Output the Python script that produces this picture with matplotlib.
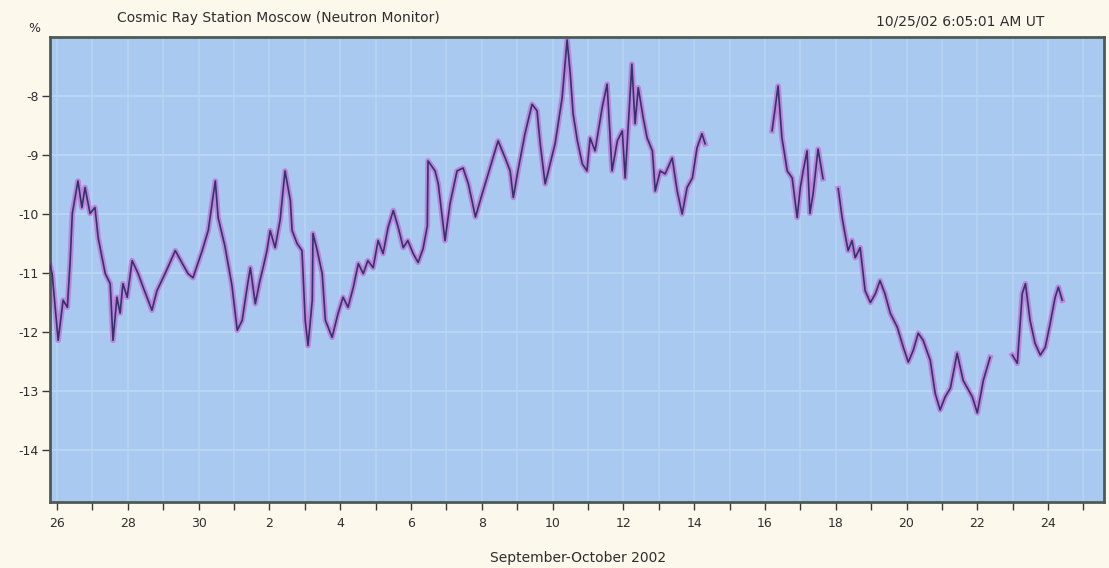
import numpy as np
import matplotlib
matplotlib.use("Agg")
import matplotlib.pyplot as plt
from matplotlib.ticker import FixedLocator, NullFormatter

# Time in days since Sep 26 2002 00:00 UT, values in percent
seg1_days = [-0.20, -0.14, 0.03, 0.17, 0.29, 0.37, 0.43, 0.59, 0.70, 0.79, 0.93, 1.07,
             1.16, 1.36, 1.50, 1.58, 1.69, 1.78, 1.86, 1.98, 2.12, 2.29, 2.43, 2.68,
             2.82, 3.05, 3.34, 3.54, 3.70, 3.84, 4.10, 4.27, 4.47, 4.55, 4.74, 4.94,
             5.09, 5.23, 5.37, 5.46, 5.60, 5.73, 5.82, 5.93, 6.02, 6.16, 6.30, 6.44,
             6.59, 6.64, 6.78, 6.92, 7.01, 7.09, 7.21, 7.23, 7.35, 7.49, 7.58, 7.77,
             7.94, 8.08, 8.22, 8.37, 8.51, 8.65, 8.78, 8.93, 9.07, 9.21, 9.35, 9.50,
             9.64, 9.78, 9.91, 10.06, 10.20, 10.34, 10.46, 10.48, 10.68, 10.77, 10.96,
             11.10, 11.30, 11.47, 11.62, 11.82, 12.01, 12.18, 12.46, 12.66, 12.80,
             12.89, 13.02, 13.22, 13.42, 13.56, 13.65, 13.79, 13.88, 14.07, 14.27,
             14.41, 14.50, 14.58, 14.70, 14.84, 14.97, 15.06, 15.20, 15.40, 15.54,
             15.68, 15.83, 15.97, 16.05, 16.13, 16.24, 16.33, 16.42, 16.56, 16.67,
             16.82, 16.90, 17.04, 17.18, 17.38, 17.52, 17.66, 17.80, 17.95, 18.08,
             18.22, 18.31]
seg1_vals = [-10.87, -11.01, -12.14, -11.46, -11.58, -10.79, -9.99, -9.44, -9.89, -9.55,
             -9.99, -9.89, -10.40, -11.01, -11.18, -12.14, -11.41, -11.68, -11.18,
             -11.41, -10.79, -11.01, -11.24, -11.63, -11.30, -11.01, -10.62, -10.84,
             -11.01, -11.08, -10.62, -10.28, -9.44, -10.06, -10.54, -11.21, -11.97,
             -11.80, -11.24, -10.91, -11.52, -11.13, -10.91, -10.62, -10.28, -10.57,
             -10.11, -9.27, -9.77, -10.28, -10.50, -10.62, -11.80, -12.23, -11.46,
             -10.33, -10.62, -11.01, -11.80, -12.09, -11.68, -11.41, -11.58, -11.24,
             -10.84, -11.01, -10.79, -10.91, -10.45, -10.67, -10.23, -9.94, -10.23,
             -10.57, -10.45, -10.67, -10.82, -10.59, -10.20, -9.10, -9.27, -9.49,
             -10.45, -9.83, -9.27, -9.22, -9.49, -10.05, -9.66, -9.32, -8.76, -9.05,
             -9.27, -9.72, -9.27, -8.64, -8.14, -8.25, -8.81, -9.49, -9.27, -8.81,
             -8.03, -7.05, -7.63, -8.30, -8.76, -9.15, -9.27, -8.71, -8.93, -8.20,
             -7.80, -9.27, -8.76, -8.59, -9.39, -8.59, -7.46, -8.47, -7.86, -8.37,
             -8.71, -8.93, -9.61, -9.27, -9.32, -9.05, -9.61, -10.00, -9.55, -9.39,
             -8.88, -8.64, -8.81]

seg2_days = [20.20, 20.29, 20.37, 20.48, 20.63, 20.77, 20.91, 21.00, 21.08, 21.19,
             21.27, 21.36, 21.50, 21.64]
seg2_vals = [-8.59, -8.20, -7.83, -8.71, -9.27, -9.39, -10.06, -9.55, -9.27, -8.93,
             -9.99, -9.66, -8.90, -9.40]

seg3_days = [22.07, 22.18, 22.26, 22.35, 22.46, 22.55, 22.69, 22.83, 22.98, 23.12,
             23.25, 23.39, 23.54, 23.74, 23.91, 24.05, 24.19, 24.33, 24.47, 24.67,
             24.81, 24.95, 25.09, 25.24, 25.43, 25.60, 25.86, 26.00, 26.17, 26.36]
seg3_vals = [-9.57, -10.06, -10.33, -10.62, -10.45, -10.74, -10.57, -11.30, -11.50,
             -11.35, -11.13, -11.35, -11.68, -11.92, -12.26, -12.51, -12.31, -12.02,
             -12.14, -12.48, -13.04, -13.32, -13.10, -12.95, -12.36, -12.82, -13.10,
             -13.37, -12.82, -12.43]

seg4_days = [26.99, 27.13, 27.27, 27.36, 27.49, 27.63, 27.78, 27.92, 28.06, 28.20,
             28.29, 28.40]
seg4_vals = [-12.39, -12.53, -11.35, -11.18, -11.80, -12.19, -12.39, -12.26, -11.85,
             -11.41, -11.24, -11.46]

# Axis labelling
day_tick_labels = ["26", "28", "30", "2", "4", "6", "8", "10", "12", "14",
                   "16", "18", "20", "22", "24"]
y_ticks = [-8, -9, -10, -11, -12, -13, -14]
y_tick_labels = ["-8", "-9", "-10", "-11", "-12", "-13", "-14"]

fig_bg = "#fcf8ec"
plot_bg = "#a9c9f0"
text_col = "#2e2e2e"

fig = plt.figure(figsize=(11.09, 5.68), dpi=100, facecolor=fig_bg)
ax = fig.add_axes([0.0451, 0.1162, 0.9504, 0.8187])
ax.set_facecolor(plot_bg)

# faint grid
for yv in y_ticks:
    ax.axhline(yv, color="#c2dcf7", lw=1.2, alpha=0.8, zorder=0)
for dv in range(0, 30):
    ax.axvline(dv, color="#bcd8f6", lw=1.2, alpha=0.7, zorder=0)

for days, vals in [(seg1_days, seg1_vals), (seg2_days, seg2_vals),
                   (seg3_days, seg3_vals), (seg4_days, seg4_vals)]:
    ax.plot(days, vals, color="#c46ad4", lw=4.0, alpha=0.7, zorder=2)
    ax.plot(days, vals, color="#33336c", lw=1.2, zorder=3)

ax.set_xlim(-0.20, 29.58)
ax.set_ylim(-14.88, -7.0)

ax.xaxis.set_major_locator(FixedLocator(list(range(0, 29, 2))))
ax.set_xticklabels(day_tick_labels)
ax.xaxis.set_minor_locator(FixedLocator(list(range(1, 30, 2))))
ax.xaxis.set_minor_formatter(NullFormatter())
ax.set_yticks(y_ticks)
ax.set_yticklabels(y_tick_labels)

ax.tick_params(axis="both", which="both", direction="out", length=6, width=1,
               color="#3a3a3a", labelsize=9, labelcolor=text_col)
ax.tick_params(axis="x", pad=5)
ax.tick_params(axis="y", pad=2)

for side, sp in ax.spines.items():
    sp.set_color("#4f5a55")
    sp.set_linewidth(2.0)

fig.text(0.251, 0.968, "Cosmic Ray Station Moscow (Neutron Monitor)", fontsize=10,
         color=text_col, ha="center", va="center")
fig.text(0.866, 0.963, "10/25/02 6:05:01 AM UT", fontsize=10, color=text_col,
         ha="center", va="center")
fig.text(0.031, 0.950, "%", fontsize=9, color=text_col, ha="center", va="center")
fig.text(0.521, 0.018, "September-October 2002", fontsize=10, color=text_col,
         ha="center", va="center")

fig.savefig("out.png", dpi=100, facecolor=fig_bg)
